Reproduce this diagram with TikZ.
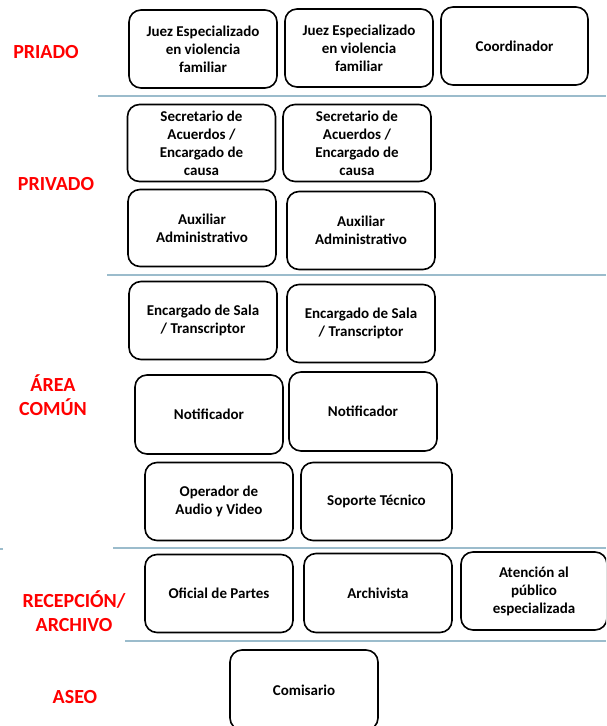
\documentclass[tikz,border=0pt]{standalone}
\usepackage{fontspec}
\setmainfont{Carlito}
\definecolor{sep}{RGB}{155,188,204}
\definecolor{lblred}{RGB}{255,0,0}
\tikzset{
  box/.style={draw=black, line width=1.6pt, rounded corners=12pt, minimum width=148pt, minimum height=78pt, align=center, inner sep=0pt, font=\fontsize{15}{18}\selectfont\bfseries},
  area/.style={text=lblred, align=center, inner sep=0pt, font=\fontsize{20}{24.5}\selectfont\bfseries},
  sepline/.style={draw=sep, line width=1.2pt}
}
\begin{document}
\begin{tikzpicture}[x=1pt,y=-1pt]
\useasboundingbox (0,0) rectangle (606,726);
\clip (0,0) rectangle (606,726);
% separators
\coordinate (s1a) at (98,96);  \coordinate (s1b) at (606,96);
\coordinate (s2a) at (107,275); \coordinate (s2b) at (606,275);
\coordinate (s3a) at (113,548); \coordinate (s3b) at (606,548);
\coordinate (s3c) at (0,549);  \coordinate (s3d) at (3,549);
\coordinate (s4a) at (125,641); \coordinate (s4b) at (606,641);
\draw[sepline] (s1a) -- (s1b);
\draw[sepline] (s2a) -- (s2b);
\draw[sepline] (s3a) -- (s3b);
\draw[sepline] (s3c) -- (s3d);
\draw[sepline] (s4a) -- (s4b);
% area labels
\node[area] (lpriado) at (46,52) {PRIADO};
\node[area] (lprivado) at (56,184) {PRIVADO};
\node[area] (lcomun) at (53,395) {ÁREA\\COMÚN};
\node[area] (lrecep) at (74,611) {RECEPCIÓN/\\ARCHIVO};
\node[area] (laseo) at (75,697) {ASEO};
% boxes
\node[box] (juez1) at (203,49) {Juez Especializado\\en violencia\\familiar};
\node[box] (juez2) at (359,48) {Juez Especializado\\en violencia\\familiar};
\node[box, minimum width=147pt] (coord) at (514.5,46) {Coordinador};
\node[box, minimum height=77pt] (sec1) at (201.5,143) {Secretario de\\Acuerdos /\\Encargado de\\causa};
\node[box, minimum height=77pt] (sec2) at (357,143) {Secretario de\\Acuerdos /\\Encargado de\\causa};
\node[box, minimum height=77pt] (aux1) at (202,228) {Auxiliar\\Administrativo};
\node[box] (aux2) at (361,230.5) {Auxiliar\\Administrativo};
\node[box] (enc1) at (203,320.5) {Encargado de Sala\\/ Transcriptor};
\node[box] (enc2) at (361,323.5) {Encargado de Sala\\/ Transcriptor};
\node[box, minimum height=79pt] (not1) at (209,414.5) {Notificador};
\node[box, minimum height=79pt] (not2) at (363,411.5) {Notificador};
\node[box] (oper) at (219,501.5) {Operador de\\Audio y Video};
\node[box, minimum width=151pt] (sop) at (376.5,501.5) {Soporte Técnico};
\node[box] (ofic) at (219,593.5) {Oficial de Partes};
\node[box, minimum height=79pt] (arch) at (378,593) {Archivista};
\node[box, minimum width=146pt] (aten) at (534,591) {Atención al\\público\\especializada};
\node[box, minimum height=80pt] (comis) at (304,690) {Comisario};
\end{tikzpicture}
\end{document}
